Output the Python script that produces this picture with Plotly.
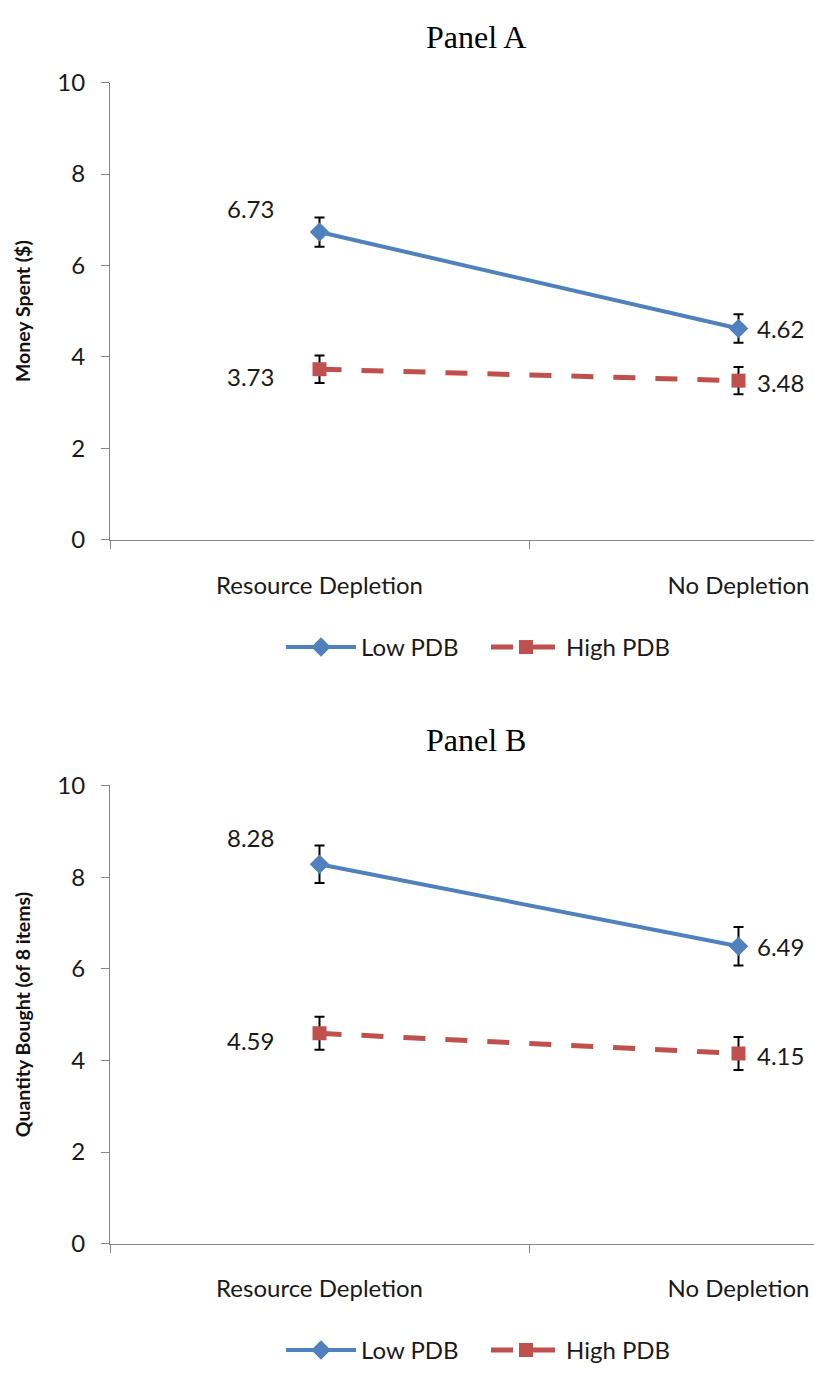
import plotly.graph_objects as go

categories = ["Resource Depletion", "No Depletion"]
series_names = ["Low PDB", "High PDB"]

# Panel A: Money Spent ($)
a_low = [6.73, 4.62]
a_low_err = [0.32, 0.31]
a_high = [3.73, 3.48]
a_high_err = [0.30, 0.30]

# Panel B: Quantity Bought (of 8 items)
b_low = [8.28, 6.49]
b_low_err = [0.41, 0.42]
b_high = [4.59, 4.15]
b_high_err = [0.36, 0.36]

y_ticks = [0, 2, 4, 6, 8, 10]
panel_titles = ["Panel A", "Panel B"]
y_titles = ["Money Spent ($)", "Quantity Bought (of 8 items)"]

BLUE = "#4F81BD"
RED = "#C0504D"
AXIS = "#868686"
TXT = "#1a1a1a"
FONT = "Lato"
FS = 24
W, H = 814, 1380

xpos = list(range(len(categories)))

fig = go.Figure()

panels = [
    (a_low, a_low_err, a_high, a_high_err, "x", "y", "legend", 24),
    (b_low, b_low_err, b_high, b_high_err, "x2", "y2", "legend2", 27),
]

for low, low_err, high, high_err, xa, ya, lg, up in panels:
    fig.add_trace(go.Scatter(
        x=xpos, y=low, name=series_names[0], mode="lines+markers",
        line=dict(color=BLUE, width=4),
        marker=dict(symbol="diamond", size=15, color=BLUE),
        error_y=dict(type="data", array=low_err, color="black", thickness=2, width=5),
        xaxis=xa, yaxis=ya, legend=lg,
    ))
    fig.add_trace(go.Scatter(
        x=xpos, y=high, name=series_names[1], mode="lines+markers",
        line=dict(color=RED, width=5, dash="22px,20px"),
        marker=dict(symbol="square", size=14, color=RED),
        error_y=dict(type="data", array=high_err, color="black", thickness=2, width=5),
        xaxis=xa, yaxis=ya, legend=lg,
    ))
    # data labels
    for i, v in enumerate(low):
        fig.add_annotation(x=xpos[i], y=v, xref=xa, yref=ya, text=f"{v:.2f}",
                           showarrow=False, xshift=-69 if i == 0 else 42,
                           yshift=up if i == 0 else 0,
                           font=dict(family=FONT, size=FS, color=TXT))
    for i, v in enumerate(high):
        fig.add_annotation(x=xpos[i], y=v, xref=xa, yref=ya, text=f"{v:.2f}",
                           showarrow=False, xshift=-69 if i == 0 else 42,
                           yshift=-7 if i == 0 else -2,
                           font=dict(family=FONT, size=FS, color=TXT))

x_left = 110 / W
xrange = [-0.5, -0.5 + (W - 110) / 419.0]

def xaxis_cfg(anchor):
    return dict(
        domain=[x_left, 1.0], range=xrange, anchor=anchor,
        tickmode="array", tickvals=xpos, ticktext=categories,
        ticks="", showgrid=False, zeroline=False,
        showline=True, linecolor=AXIS, linewidth=1,
        ticklabelstandoff=24,
        tickfont=dict(family=FONT, size=FS, color=TXT),
        minor=dict(tickmode="array", tickvals=[-0.5, 0.5, 1.5], ticks="outside",
                   ticklen=8, tickcolor=AXIS, tickwidth=1, showgrid=False),
        fixedrange=True,
    )

def yaxis_cfg(domain, anchor, title):
    return dict(
        domain=domain, range=[0, 10], anchor=anchor,
        tickmode="array", tickvals=y_ticks,
        ticks="outside", ticklen=8, tickcolor=AXIS, tickwidth=1,
        showgrid=False, zeroline=False,
        showline=True, linecolor=AXIS, linewidth=1,
        ticklabelstandoff=11,
        tickfont=dict(family=FONT, size=FS, color=TXT),
        title=dict(text=f"<b>{title}</b>", standoff=21,
                   font=dict(family=FONT, size=19.5, color="#111")),
    )

yA = [1 - 535 / H, 1 - 68 / H]
yB = [1 - 1254 / H, 1 - 786 / H]

legend_common = dict(
    orientation="h", xanchor="center", yanchor="middle", x=486 / W,
    font=dict(family=FONT, size=FS, color=TXT),
    bgcolor="rgba(0,0,0,0)", itemwidth=70,
    entrywidth=120, entrywidthmode="pixels",
)

fig.update_layout(
    width=W, height=H,
    margin=dict(l=0, r=0, t=0, b=0),
    paper_bgcolor="white", plot_bgcolor="white",
    xaxis=xaxis_cfg("y"),
    yaxis=yaxis_cfg(yA, "x", y_titles[0]),
    xaxis2=xaxis_cfg("y2"),
    yaxis2=yaxis_cfg(yB, "x2", y_titles[1]),
    legend=dict(y=1 - 645 / H, **legend_common),
    legend2=dict(y=1 - 1363 / H, **legend_common),
    showlegend=True,
)

for t, ypix in zip(panel_titles, [21, 740]):
    fig.add_annotation(x=476 / W, y=1 - ypix / H, xref="paper", yref="paper",
                       text=t, showarrow=False, xanchor="center", yanchor="middle",
                       font=dict(family="Liberation Serif", size=32, color="black"))

fig.write_html("out.html")
